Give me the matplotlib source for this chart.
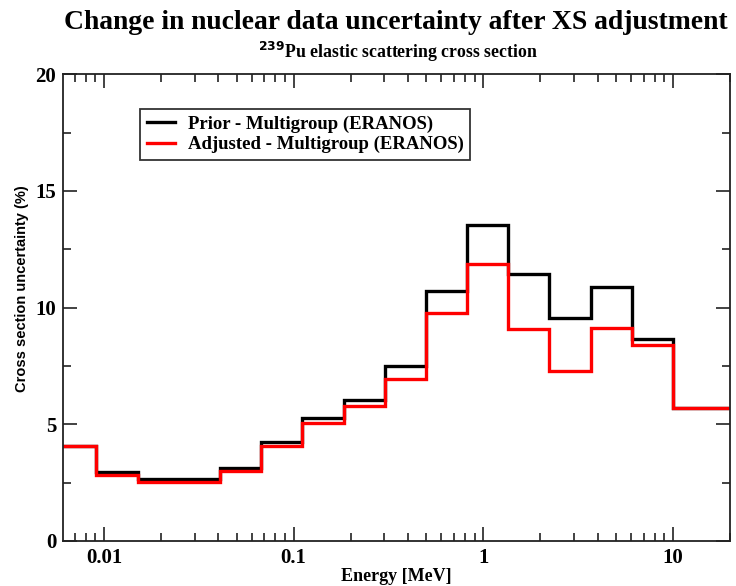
import matplotlib
matplotlib.use("Agg")
import matplotlib.pyplot as plt
from matplotlib.ticker import LogLocator, MultipleLocator, FixedLocator, FixedFormatter, NullFormatter

# 33-group energy boundaries (MeV), ascending, covering the plotted range
group_bounds = [0.005531, 0.009119, 0.01503, 0.02479, 0.04087, 0.06738,
                0.1111, 0.1832, 0.3020, 0.4979, 0.8209, 1.353, 2.231,
                3.679, 6.065, 10.0, 19.64]

# Relative uncertainty (%) per group
prior_unc = [4.08, 2.97, 2.67, 2.67, 3.14, 4.23, 5.27, 6.02, 7.49, 10.72,
             13.52, 11.46, 9.54, 10.89, 8.66, 5.71]
adjusted_unc = [4.08, 2.81, 2.54, 2.54, 3.01, 4.07, 5.04, 5.77, 6.92, 9.75,
                11.88, 9.07, 7.28, 9.14, 8.38, 5.71]

x_tick_vals = [0.01, 0.1, 1, 10]
x_tick_labels = ["0.01", "0.1", "1", "10"]

serif = ["Liberation Serif", "DejaVu Serif"]
sans = ["Liberation Sans", "DejaVu Sans"]

fig = plt.figure(figsize=(7.36, 5.86), dpi=100)
ax = fig.add_axes([0.086, 0.0768, 0.906, 0.7966])

ax.stairs(prior_unc, group_bounds, color="black", lw=2.4, baseline=None,
          label="Prior - Multigroup (ERANOS)")
ax.stairs(adjusted_unc, group_bounds, color="#ff0000", lw=2.4, baseline=None,
          label="Adjusted - Multigroup (ERANOS)")

ax.set_xscale("log")
ax.set_xlim(0.0061, 20)
ax.set_ylim(0, 20)

ax.xaxis.set_major_locator(FixedLocator(x_tick_vals))
ax.xaxis.set_major_formatter(FixedFormatter(x_tick_labels))
ax.xaxis.set_minor_locator(LogLocator(base=10, subs=range(2, 10), numticks=20))
ax.xaxis.set_minor_formatter(NullFormatter())
ax.yaxis.set_major_locator(MultipleLocator(5))
ax.yaxis.set_minor_locator(MultipleLocator(2.5))

ax.tick_params(which="both", direction="in", top=True, right=True,
               width=1.2, colors="#222222", labelcolor="black")
ax.tick_params(which="major", length=10, pad=5)
ax.tick_params(which="minor", length=6)
for lbl in ax.get_xticklabels() + ax.get_yticklabels():
    lbl.set_fontfamily(serif)
    lbl.set_fontweight("bold")
    lbl.set_fontsize(15)
for sp in ax.spines.values():
    sp.set_linewidth(1.3)
    sp.set_color("#222222")

ax.set_xlabel("Energy [MeV]", family=serif, fontweight="bold", fontsize=13)
ax.xaxis.set_label_coords(0.5, -0.058)
ax.set_ylabel("Cross section uncertainty (%)", family=sans, fontweight="bold",
              fontsize=10.5)
ax.yaxis.set_label_coords(-0.0615, 0.54)
ax.yaxis.label.set_va("center")

leg = ax.legend(loc="upper left", bbox_to_anchor=(0.115, 0.925),
                prop={"family": serif, "weight": "bold", "size": 13.5},
                frameon=True, fancybox=False, edgecolor="black",
                handlelength=1.5, handletextpad=0.7, borderpad=0.35,
                labelspacing=0.15, borderaxespad=0)
leg.get_frame().set_linewidth(1.3)
for h in leg.get_lines():
    h.set_linewidth(2.4)

fig.text(0.538, 0.962, "Change in nuclear data uncertainty after XS adjustment",
         ha="center", va="center", family=serif, fontweight="bold", fontsize=19.9)
fig.text(0.540, 0.912, r"$^{\mathbf{239}}$Pu elastic scattering cross section",
         ha="center", va="center", family=serif, fontweight="bold", fontsize=12.8)

fig.savefig("out.png", dpi=100)
